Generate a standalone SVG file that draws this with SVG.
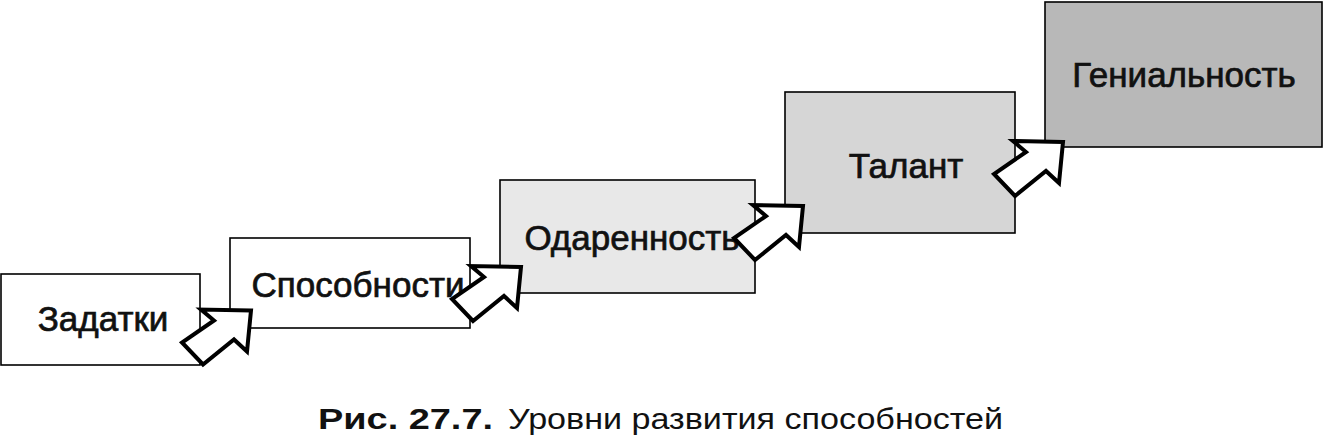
<svg xmlns="http://www.w3.org/2000/svg" width="1324" height="436" viewBox="0 0 1324 436">
<style>
.box{stroke:#000;stroke-width:1.6}
.lbl{font-family:"Liberation Sans",Arial,sans-serif;font-size:35px;fill:#111;stroke:#111;stroke-width:0.7;text-anchor:middle}
.arr{fill:#fff;stroke:#000;stroke-width:4;stroke-linejoin:miter}
.cap{font-family:"Liberation Sans",Arial,sans-serif;font-size:30px;fill:#111}
</style>
<defs>
<path id="ar" d="M0,0 L-50,-1 L-37,10 L-69,32 L-48,54 L-17,29 L-4,41 Z"/>
</defs>
<rect width="1324" height="436" fill="#fff"/>
<g id="n1"><rect class="box" x="1" y="274" width="199" height="91" fill="#fff"/><text class="lbl" x="103" y="331">Задатки</text></g>
<g id="n2"><rect class="box" x="230" y="238" width="240" height="90" fill="#fff"/><text class="lbl" x="358" y="297">Способности</text></g>
<g id="n3"><rect class="box" x="500" y="180" width="255" height="113" fill="#e8e8e8"/><text class="lbl" x="632" y="250">Одаренность</text></g>
<g id="n4"><rect class="box" x="785" y="92" width="230" height="141" fill="#d6d6d6"/><text class="lbl" x="906" y="178">Талант</text></g>
<g id="n5"><rect class="box" x="1045" y="2" width="277" height="145" fill="#b8b8b8"/><text class="lbl" x="1184" y="87">Гениальность</text></g>
<g id="connectors">
<use href="#ar" class="arr" transform="translate(251,310.5)"/>
<use href="#ar" class="arr" transform="translate(521,267)"/>
<use href="#ar" class="arr" transform="translate(803,206)"/>
<use href="#ar" class="arr" transform="translate(1063,142)"/>
</g>
<text class="cap" x="318" y="429" font-weight="bold" textLength="175" lengthAdjust="spacingAndGlyphs">Рис. 27.7.</text>
<text class="cap" x="508" y="429" textLength="495" lengthAdjust="spacingAndGlyphs">Уровни развития способностей</text>
</svg>
